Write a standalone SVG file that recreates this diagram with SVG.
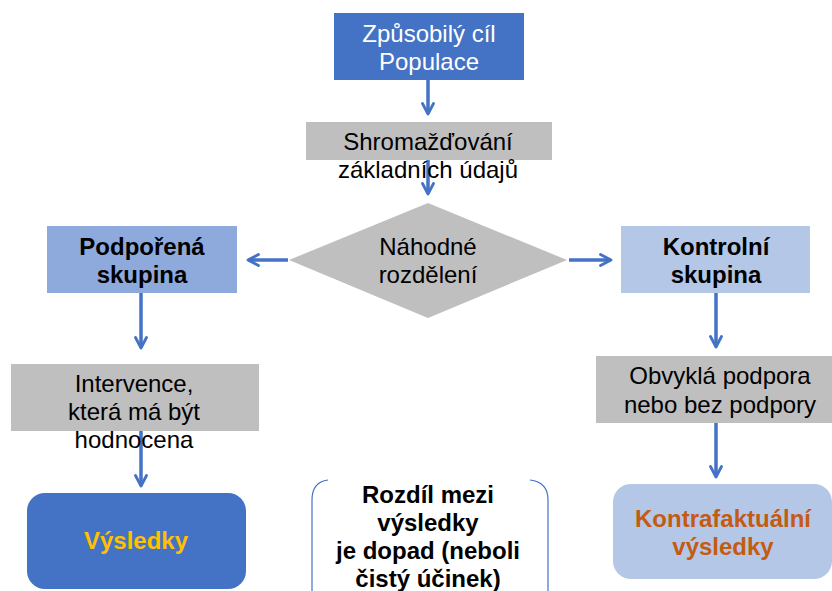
<svg xmlns="http://www.w3.org/2000/svg" width="832" height="591" viewBox="0 0 832 591">
<defs>
<marker id="ah" viewBox="0 0 14 14" refX="12" refY="7" markerWidth="14" markerHeight="14" markerUnits="userSpaceOnUse" orient="auto">
<path d="M1.5,1.5 L12,7 L1.5,12.5" fill="none" stroke="#4472C4" stroke-width="2.8" stroke-linecap="round" stroke-linejoin="round"/>
</marker>
<style>
.t{font-family:"Liberation Sans",Arial,sans-serif;font-size:24px;text-anchor:middle;fill:#000}
.b{font-weight:bold}
.c{fill:none;stroke:#4472C4;stroke-width:3.5;marker-end:url(#ah)}
.g{fill:#BFBFBF}
</style>
</defs>
<rect width="832" height="591" fill="#fff"/>
<g id="connectors">
<line class="c" x1="428" y1="80" x2="428" y2="114"/>
<line class="c" x1="428" y1="160" x2="428" y2="194"/>
<line class="c" x1="288" y1="260" x2="248" y2="260"/>
<line class="c" x1="569" y1="260" x2="611" y2="260"/>
<line class="c" x1="141" y1="293" x2="141" y2="348"/>
<line class="c" x1="716" y1="293" x2="716" y2="347"/>
<line class="c" x1="141" y1="431" x2="141" y2="486"/>
<line class="c" x1="716" y1="423" x2="716" y2="477"/>
</g>
<g id="eligible">
<rect x="334" y="13" width="190" height="67" fill="#4472C4"/>
<text class="t" x="429" y="42" style="fill:#fff">Způsobilý cíl</text>
<text class="t" x="429" y="70" style="fill:#fff">Populace</text>
</g>
<g id="baseline">
<rect class="g" x="306" y="122" width="246" height="38"/>
<text class="t" x="428" y="150">Shromažďování</text>
<text class="t" x="428" y="178">základních údajů</text>
</g>
<g id="random">
<polygon class="g" points="428,203 567,260 428,318 289,260"/>
<text class="t" x="428" y="255">Náhodné</text>
<text class="t" x="428" y="283">rozdělení</text>
</g>
<g id="supported">
<rect x="47" y="226" width="190" height="67" fill="#8EA9DB"/>
<text class="t b" x="142" y="255">Podpořená</text>
<text class="t b" x="142" y="283">skupina</text>
</g>
<g id="control">
<rect x="621" y="226" width="189" height="67" fill="#B4C7E7"/>
<text class="t b" x="716" y="255">Kontrolní</text>
<text class="t b" x="716" y="283">skupina</text>
</g>
<g id="intervention">
<rect class="g" x="11" y="364" width="248" height="67"/>
<text class="t" x="134" y="392">Intervence,</text>
<text class="t" x="134" y="420">která má být</text>
<text class="t" x="134" y="448">hodnocena</text>
</g>
<g id="usual">
<rect class="g" x="596" y="356" width="236" height="67"/>
<text class="t" x="720" y="384">Obvyklá podpora</text>
<text class="t" x="720" y="413">nebo bez podpory</text>
</g>
<g id="outcomes">
<rect x="27" y="493" width="219" height="96" rx="18" fill="#4472C4"/>
<text class="t b" x="136" y="549" style="fill:#FFC000">Výsledky</text>
</g>
<g id="counterfactual">
<rect x="613" y="484" width="219" height="95" rx="18" fill="#B4C7E7"/>
<text class="t b" x="723" y="527" style="fill:#C55A11">Kontrafaktuální</text>
<text class="t b" x="723" y="555" style="fill:#C55A11">výsledky</text>
</g>
<g id="difference">
<path d="M328,480 Q312,482 312,500 L312,591 M530,480 Q548,482 548,500 L548,591" fill="none" stroke="#4472C4" stroke-width="1.2"/>
<text class="t b" x="428" y="503">Rozdíl mezi</text>
<text class="t b" x="428" y="531">výsledky</text>
<text class="t b" x="428" y="559">je dopad (neboli</text>
<text class="t b" x="428" y="587">čistý účinek)</text>
</g>
</svg>
